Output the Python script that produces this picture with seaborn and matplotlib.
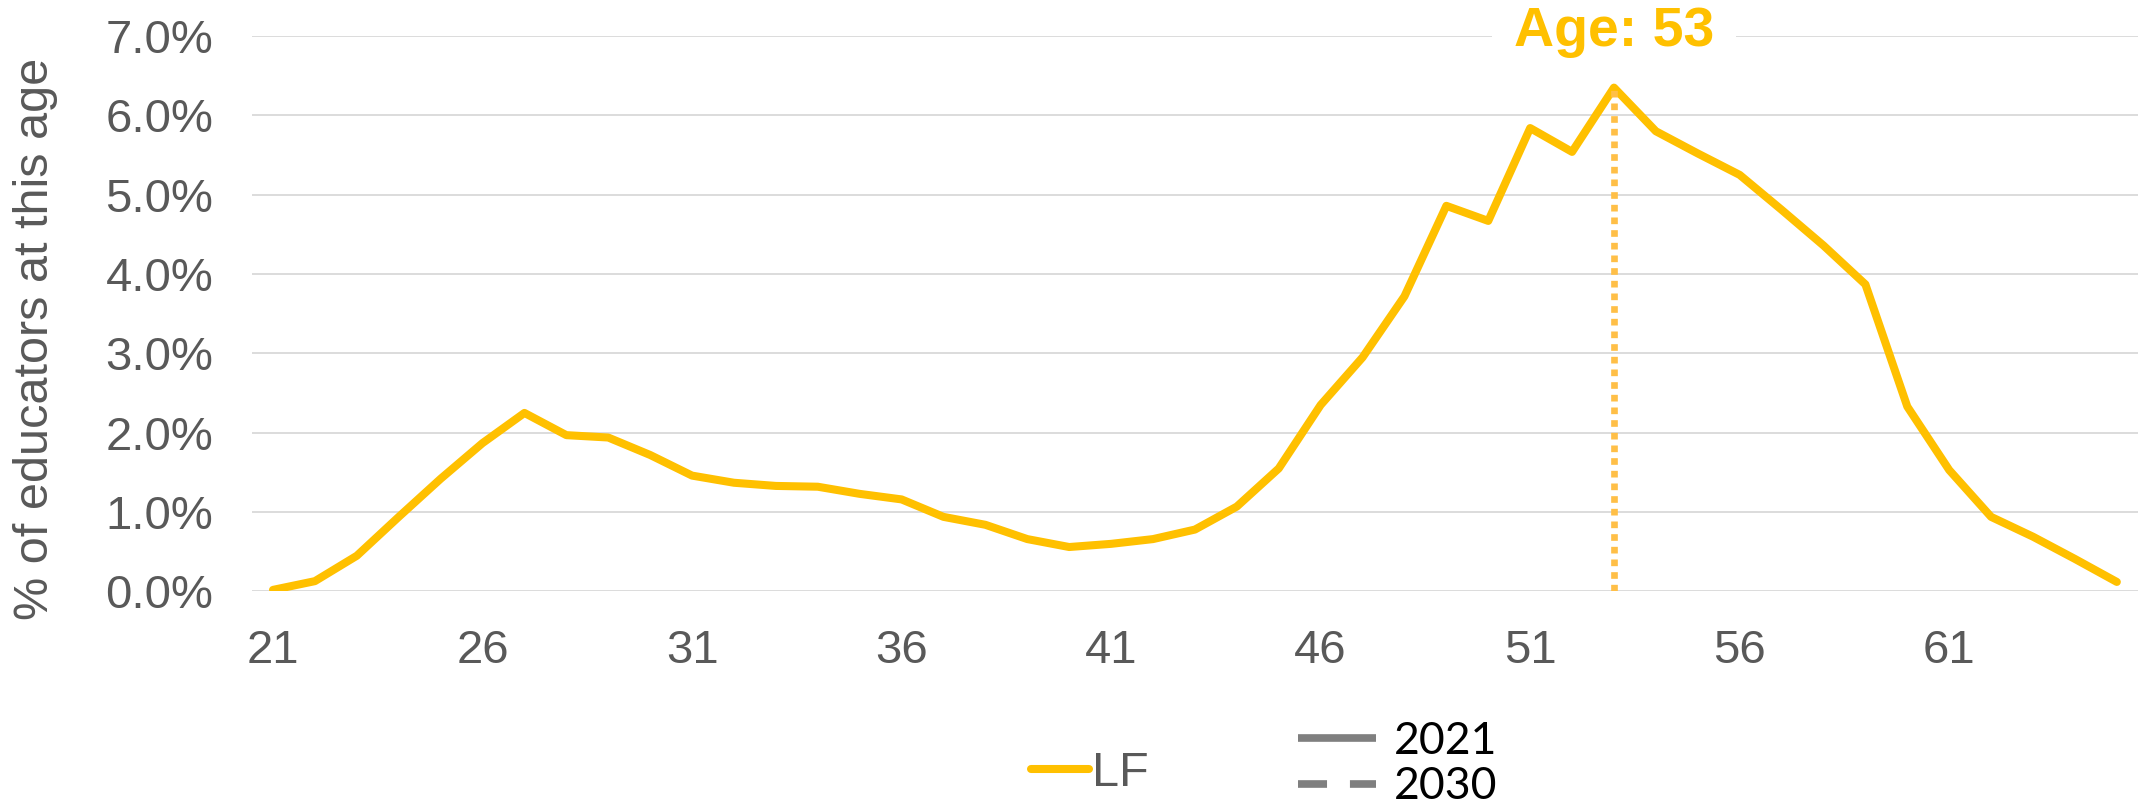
import numpy as np
import pandas as pd
import matplotlib
matplotlib.use('Agg')
import matplotlib.pyplot as plt
from matplotlib.lines import Line2D
from matplotlib.ticker import FuncFormatter
import seaborn as sns

# age distribution of educators, % at each age
ages = list(range(21, 66))
lf_pct = [0.02, 0.13, 0.45, 0.94, 1.42, 1.87, 2.25, 1.97, 1.94, 1.72,
          1.46, 1.37, 1.33, 1.32, 1.23, 1.16, 0.94, 0.84, 0.66, 0.56,
          0.60, 0.66, 0.78, 1.07, 1.55, 2.35, 2.95, 3.72, 4.86, 4.67,
          5.84, 5.54, 6.35, 5.80, 5.52, 5.25, 4.81, 4.36, 3.87, 2.33,
          1.53, 0.94, 0.69, 0.41, 0.12]
xtick_ages = [21, 26, 31, 36, 41, 46, 51, 56, 61]
series_name = 'LF'
year_labels = ['2021', '2030']
y_label = '% of educators at this age'

sns.set_theme(style='white')
plt.rcParams['font.family'] = ['Liberation Sans', 'DejaVu Sans']

df = pd.DataFrame({'age': ages, 'pct': lf_pct})

fig = plt.figure(figsize=(21.38, 8.08), dpi=100)
ax = fig.add_axes([0.1179, 0.268, 0.882, 0.6874])

sns.lineplot(data=df, x='age', y='pct', color='#FFC000', linewidth=5.8,
             legend=False, ax=ax)
line = ax.lines[0]
line.set_solid_joinstyle('round')
line.set_solid_capstyle('round')

ax.set_xlim(20.5, 65.5)
ax.set_ylim(0, 7)
ax.set_xticks(xtick_ages)
ax.set_yticks(range(8))
ax.yaxis.set_major_formatter(FuncFormatter(lambda v, p: f'{v:.1f}%'))
ax.grid(axis='y', color='#D9D9D9', linewidth=1.3)
ax.grid(axis='x', visible=False)
ax.set_axisbelow(True)
sns.despine(ax=ax, left=True, bottom=True)
ax.tick_params(axis='both', length=0, labelsize=34, labelcolor='#595959')
ax.tick_params(axis='y', pad=28)
ax.tick_params(axis='x', pad=27)
ax.set_xlabel('')
ax.set_ylabel(y_label, fontsize=35, color='#595959')
ax.yaxis.label.set_va('center')
ax.yaxis.set_label_coords(-0.1148, 0.455)

# peak marker
i = int(np.argmax(lf_pct))
peak_age, peak_val = ages[i], lf_pct[i]
ax.vlines(peak_age, 0, peak_val, colors='#FFBF47', linewidth=4.8,
          linestyles=(0, (1, 0.9)), zorder=3)
ax.text(peak_age, 6.88, f'Age: {peak_age}', ha='center', va='baseline',
        fontsize=40, fontweight='bold', color='#FFC000', clip_on=False,
        bbox=dict(boxstyle='square,pad=0.4', facecolor='white', edgecolor='none'),
        zorder=5)

# legends
leg1 = fig.legend(handles=[line], labels=[series_name], loc='center left',
                  bbox_to_anchor=(0.4822, 0.043), frameon=False, fontsize=35,
                  handlelength=1.2, handletextpad=0.05, borderpad=0,
                  borderaxespad=0)
for t in leg1.get_texts():
    t.set_color('#595959')

gray = '#7F7F7F'
year_handles = [Line2D([], [], color=gray, lw=5.5, solid_capstyle='butt'),
                Line2D([], [], color=gray, lw=5.5, ls=(0, (3.8, 3.0)))]
leg2 = fig.legend(handles=year_handles, labels=year_labels, loc='center left',
                  bbox_to_anchor=(0.6071, 0.0545), frameon=False,
                  prop={'family': 'Lato', 'size': 32}, handlelength=1.75,
                  handletextpad=0.4, labelspacing=0.1, borderpad=0,
                  borderaxespad=0)
for t in leg2.get_texts():
    t.set_color('black')

fig.savefig('out.png', dpi=100)
